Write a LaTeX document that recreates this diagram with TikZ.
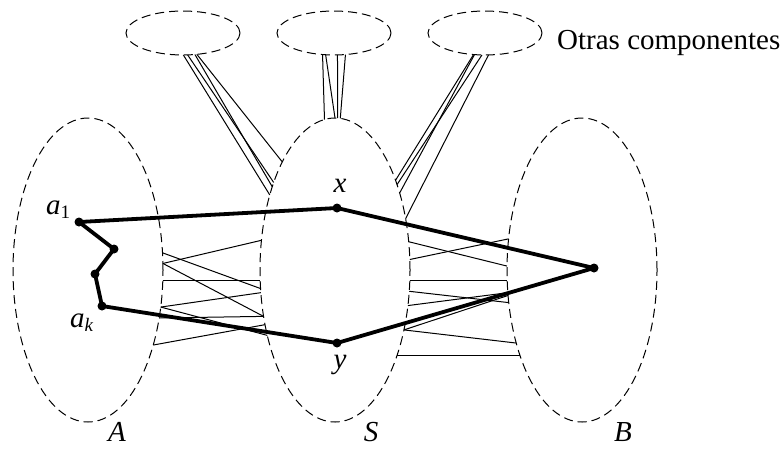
\documentclass[tikz,border=0pt]{standalone}
\usepackage{fontspec}
\setmainfont{Liberation Serif}
\usetikzlibrary{shapes.geometric}
\newcommand{\lowsub}[1]{\raisebox{-4pt}{\fontsize{19}{19}\selectfont #1}}
\begin{document}
\begin{tikzpicture}[x=1pt,y=-1pt,
  region/.style={draw, ellipse, dash pattern=on 9pt off 5pt, line width=1pt, inner sep=0pt, outer sep=0pt, minimum width=150pt, minimum height=304pt},
  comp/.style={draw, ellipse, dash pattern=on 9pt off 5pt, line width=1pt, inner sep=0pt, outer sep=0pt, minimum width=114pt, minimum height=44pt},
  edgeline/.style={line width=1pt},
  walk/.style={line width=3.8pt, line join=round},
  lab/.style={font=\fontsize{29}{34}\selectfont, inner sep=0pt, anchor=base}
]
\useasboundingbox (0,0) rectangle (783,448);
% regions
\node[region] (A) at (88,270) {};
\node[region] (S) at (335,270) {};
\node[region] (B) at (582,270) {};
\node[comp] (T1) at (183,33) {};
\node[comp] (T2) at (334,33) {};
\node[comp] (T3) at (485,33) {};
% edges between A and S
\foreach \s/\t in {A.13.5/S.194.1, A.5.2/S.158.4, A.5.2/S.213.2, A.-8.4/S.188.2,
                   A.-27.8/S.197.6, A.-34.5/S.213.4, A.-27.8/S.224.1, A.-49.4/S.218.9}
  \draw[edgeline] (\s) -- (\t);
% edges between S and B
\foreach \s/\t in {S.21.1/B.177.5, S.8.1/B.157.5, S.-8.3/B.188.2, S.-16.3/B.204.6,
                   S.-26.4/B.197.2, S.-41.1/B.199.8, S.-41.1/B.228.9, S.-54.6/B.234.9}
  \draw[edgeline] (\s) -- (\t);
% edges to other components
\foreach \s/\t in {T1.-89.2/S.131.3, T1.-78.3/S.125, T1.-61/S.127.7, T1.-57.3/S.116.2,
                   T2.-118.5/S.94.2, T2.-111.6/S.90.9, T2.-81.5/S.89.7, T2.-62.7/S.88.8,
                   T3.-118.5/S.56.7, T3.-116/S.50.3, T3.-98.3/S.54, T3.-81.7/S.36.6}
  \draw[edgeline] (\s) -- (\t);
% the walk
\coordinate (a1) at (79,222);
\coordinate (p2) at (114,249);
\coordinate (p3) at (95,274);
\coordinate (ak) at (102,306);
\coordinate (x) at (337,208);
\coordinate (b) at (594,268);
\coordinate (y) at (337,343);
\draw[walk] (a1) -- (x) -- (b) -- (y) -- (ak) -- (p3) -- (p2) -- cycle;
\foreach \c in {a1,p2,p3,ak,x,b,y}
  \fill (\c) circle (4.5pt);
% labels
\node[lab, anchor=base west] (la1) at (46,214) {\textit{a}\lowsub{1}};
\node[lab, anchor=base west] (lak) at (70,327) {\textit{a}\lowsub{\textit{k}}};
\node[lab] (lx) at (340,192) {\textit{x}};
\node[lab] (ly) at (340,368) {\textit{y}};
\node[lab] (lA) at (117,441) {\textit{A}};
\node[lab] (lS) at (371,441) {\textit{S}};
\node[lab] (lB) at (623,441) {\textit{B}};
\node[lab, anchor=base west] (oc) at (557,49) {Otras componentes};
\end{tikzpicture}
\end{document}
